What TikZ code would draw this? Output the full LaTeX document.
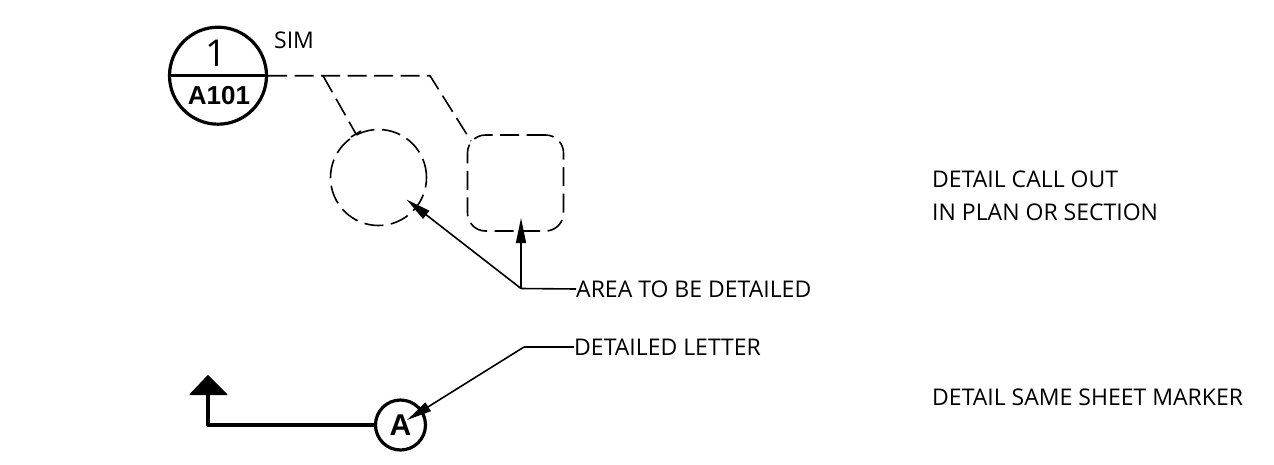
\documentclass[tikz,border=0pt]{standalone}
\usepackage{fontspec}
\setmainfont{Open Sans}
\newfontfamily\boldf{Liberation Sans}[BoldFont={Liberation Sans Bold}]
\usetikzlibrary{arrows.meta,calc}
\tikzset{
 x=1pt,y=-1pt,
 lbl/.style={inner sep=0pt,anchor=west,font=\fontsize{23}{26}\selectfont},
 thick line/.style={line width=3.2pt,black},
 thin line/.style={line width=1.6pt,black},
 dashline/.style={line width=1.6pt,black,dash pattern=on 19pt off 7.5pt},
 leader/.style={line width=1.6pt,black,-{Triangle[length=25pt,width=10pt]}}
}
\begin{document}
\begin{tikzpicture}
\useasboundingbox (0,0) rectangle (1274,464);
% callout bubble
\node[circle,draw,thick line,minimum size=97pt,inner sep=0pt] (bub) at (218,75.7) {};
\draw[thick line] (bub.west) -- (bub.east);
\node[inner sep=0pt,font=\fontsize{37}{40}\selectfont] (num) at (216,53) {1};
\node[inner sep=0pt,font=\fontsize{26}{28}\selectfont\boldf\bfseries] (sheet) at (219,96) {A101};
\node[lbl] (sim) at (274,40) {SIM};
% dashed leader
\coordinate (kink) at (430,75.7);
\coordinate (branch) at (323,75.7);
\coordinate (circend) at (356,134);
\coordinate (squend) at (471,141);
\draw[dashline] (bub.east) -- (kink) -- (squend);
\draw[dashline] (branch) -- (circend);
\draw[thin line] ($(circend)+(-5,3)$) -- ($(circend)+(5,-3)$);
% detail areas
\node[circle,draw,dashline,minimum size=96pt,inner sep=0pt] (detc) at (378.5,177.5) {};
\node[rectangle,draw,dashline,rounded corners=18pt,minimum size=96pt,inner sep=0pt] (dets) at (515.5,183) {};
% area label and leaders
\node[lbl] (area) at (576,289) {AREA TO BE DETAILED};
\coordinate (areaj) at (521,288.5);
\coordinate (areatipa) at (406.5,199.5);
\coordinate (areatipb) at (521,218);
\draw[thin line] (area.west) -- (areaj);
\draw[leader] (areaj) -- (areatipa);
\draw[leader] (areaj) -- (areatipb);
% detail same sheet marker
\node[circle,draw,thick line,minimum size=50pt,inner sep=0pt,font=\fontsize{30}{32}\selectfont\boldf\bfseries] (mark) at (400.5,425) {A};
\coordinate (corner) at (208,425);
\coordinate (up) at (208,390);
\draw[thick line,line join=round] (mark.west) -- (corner) -- (up);
\fill[black,draw=black,line width=1pt,line join=round] (208,375.5) -- (227,394.5) -- (190,394.5) -- cycle;
\node[lbl] (letter) at (574,347) {DETAILED LETTER};
\coordinate (letj) at (524,347);
\coordinate (lettip) at (407,420);
\draw[thin line] (letter.west) -- (letj);
\draw[leader] (letj) -- (lettip);
% side captions
\node[lbl] (cap1) at (932,179) {DETAIL CALL OUT};
\node[lbl] (cap2) at (932,212) {IN PLAN OR SECTION};
\node[lbl] (cap3) at (932,397) {DETAIL SAME SHEET MARKER};
\end{tikzpicture}
\end{document}
